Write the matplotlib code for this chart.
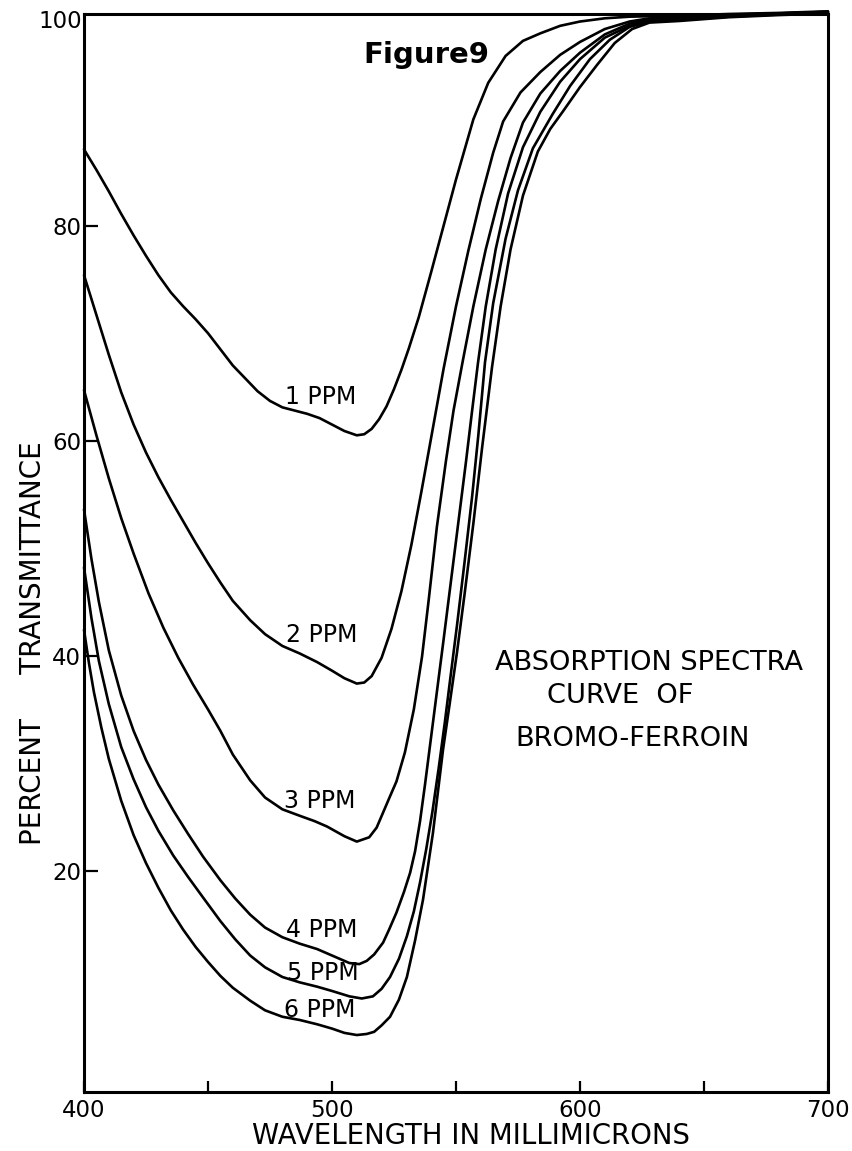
import matplotlib
matplotlib.use("Agg")
import matplotlib.pyplot as plt

# ---------------- data ----------------
wl_1ppm = [400, 405, 410, 415, 420, 425, 430, 435, 440, 445, 450, 455, 460, 465, 470, 475, 480,
           485, 490, 495, 500, 505, 510, 513, 516, 519, 522, 525, 528, 531, 535, 540, 545, 550,
           557, 563, 570, 577, 584, 592, 600, 610, 620, 640, 660, 680, 700]
t_1ppm = [87.1, 85.2, 83.2, 81.1, 79.1, 77.2, 75.4, 73.8, 72.5, 71.3, 70.0, 68.5, 67.0, 65.8, 64.6,
          63.7, 63.1, 62.8, 62.5, 62.1, 61.5, 60.9, 60.5, 60.6, 61.1, 62.0, 63.2, 64.8, 66.6, 68.6,
          71.5, 75.7, 80.0, 84.3, 89.9, 93.3, 95.8, 97.2, 97.9, 98.6, 99.0, 99.3, 99.45, 99.55,
          99.7, 99.8, 99.95]

wl_2ppm = [400, 405, 410, 415, 420, 425, 430, 435, 440, 445, 450, 455, 460, 467, 473, 480, 487,
           494, 500, 505, 510, 513, 516, 520, 524, 528, 532, 536, 540, 545, 550, 555, 560, 565,
           569, 576, 584, 592, 600, 610, 620, 628, 640, 660, 680, 700]
t_2ppm = [75.4, 71.7, 68.0, 64.5, 61.5, 58.9, 56.6, 54.5, 52.5, 50.5, 48.6, 46.8, 45.1, 43.3, 42.0,
          40.9, 40.2, 39.4, 38.6, 37.9, 37.4, 37.5, 38.1, 39.8, 42.5, 46.0, 50.3, 55.2, 60.3, 66.7,
          72.5, 77.7, 82.5, 86.8, 89.7, 92.4, 94.3, 95.9, 97.1, 98.3, 99.0, 99.3, 99.45, 99.65,
          99.75, 99.9]

wl_3ppm = [400, 405, 410, 415, 420, 426, 432, 438, 444, 450, 455, 460, 467, 473, 480, 487, 493,
           498, 505, 510, 515, 518, 520.6, 523, 526, 529.4, 533, 536.3, 539, 542.3, 546, 549,
           552.8, 557, 562, 567, 572, 577, 584, 592, 600, 610, 620, 628, 640, 660, 680, 700]
t_3ppm = [64.7, 60.5, 56.5, 52.8, 49.5, 45.8, 42.6, 39.8, 37.3, 35.0, 33.0, 30.8, 28.4, 26.8, 25.7,
          25.1, 24.6, 24.1, 23.2, 22.7, 23.1, 24.0, 25.4, 26.7, 28.3, 31.0, 35.0, 39.9, 45.2, 52.0,
          58.2, 62.8, 67.5, 72.5, 77.8, 82.3, 86.3, 89.6, 92.3, 94.4, 96.1, 97.8, 98.8, 99.2,
          99.35, 99.6, 99.75, 99.9]

wl_4ppm = [400, 403, 406, 410, 415, 420, 425, 430, 436, 442, 448, 455, 461, 467, 473, 480, 487,
           494, 500, 507, 511, 514, 517, 520.6, 523, 526, 529, 531.5, 533.5, 535.5, 537.5, 540,
           542.5, 545, 548, 551, 554, 556.5, 558.9, 562, 566, 571, 577, 584, 592, 600, 610, 620,
           628, 640, 660, 680, 700]
t_4ppm = [53.6, 49.0, 45.0, 40.5, 36.3, 33.0, 30.3, 28.0, 25.6, 23.4, 21.3, 19.1, 17.4, 15.9, 14.7,
          13.8, 13.2, 12.7, 12.1, 11.4, 11.3, 11.6, 12.2, 13.3, 14.5, 16.1, 18.0, 19.8, 21.8, 24.6,
          28.0, 32.5, 37.0, 41.5, 47.0, 52.5, 58.0, 62.8, 67.3, 72.5, 77.8, 83.0, 87.3, 90.6, 93.4,
          95.5, 97.5, 98.6, 99.1, 99.25, 99.5, 99.7, 99.85]

wl_5ppm = [400, 403, 406, 410, 415, 420, 425, 430, 436, 442, 448, 455, 461, 467, 473, 480, 487,
           494, 500, 507, 512, 516.5, 520, 523.4, 527, 530.2, 533, 535.5, 538, 540.5, 543, 545.5,
           547.6, 550.5, 553.5, 556.5, 559, 561.7, 565, 570, 575, 581, 589, 596, 604, 612, 620,
           628, 640, 660, 680, 700]
t_5ppm = [48.2, 43.5, 39.5, 35.5, 31.5, 28.5, 25.9, 23.7, 21.4, 19.4, 17.5, 15.3, 13.6, 12.1, 11.0,
          10.1, 9.6, 9.2, 8.8, 8.3, 8.1, 8.3, 9.0, 10.1, 11.8, 13.9, 16.2, 18.9, 22.0, 25.5, 29.5,
          33.8, 37.7, 43.0, 48.8, 54.8, 60.5, 67.3, 72.8, 78.8, 83.3, 87.2, 90.4, 93.0, 95.5, 97.3,
          98.5, 99.0, 99.15, 99.45, 99.65, 99.8]

wl_6ppm = [400, 402, 404, 407, 410, 415, 420, 425, 430, 435, 440, 445, 450, 455, 460, 467, 473,
           480, 487, 494, 500, 505, 510, 514, 517, 520, 523.4, 527, 530.2, 533.5, 536.7, 540.7,
           544.8, 547.5, 550.4, 553.5, 557, 560.5, 564.5, 568, 572, 577, 583, 588, 593, 600, 607,
           614, 621, 628, 640, 660, 680, 700]
t_6ppm = [42.4, 39.3, 36.6, 33.3, 30.4, 26.5, 23.3, 20.7, 18.4, 16.3, 14.5, 12.9, 11.5, 10.2, 9.1,
          7.9, 7.0, 6.4, 6.1, 5.7, 5.3, 4.9, 4.7, 4.8, 5.0, 5.6, 6.4, 8.0, 10.1, 13.5, 17.3, 23.5,
          31.3, 35.6, 40.3, 45.8, 52.3, 59.3, 66.8, 72.5, 77.8, 82.8, 86.9, 89.0, 90.6, 92.9, 95.0,
          97.0, 98.3, 98.9, 99.05, 99.4, 99.6, 99.75]

curve_labels = ["1 PPM", "2 PPM", "3 PPM", "4 PPM", "5 PPM", "6 PPM"]
label_x = [481.0, 481.5, 480.7, 481.5, 481.9, 480.7]
label_y = [64.1, 41.9, 26.5, 14.5, 10.5, 7.0]

x_ticks = [400, 450, 500, 550, 600, 650, 700]
x_tick_labels = ["400", "", "500", "", "600", "", "700"]
y_ticks = [20, 40, 60, 80]
y_tick_labels = ["20", "40", "60", "80"]

# ---------------- figure ----------------
plt.rcParams['font.family'] = ['DejaVu Sans']
fig = plt.figure(figsize=(8.52, 11.51), dpi=100)
ax = fig.add_axes([84 / 852, 1 - 1092 / 1151, (828 - 84) / 852, (1092 - 14) / 1151])

series = [(wl_1ppm, t_1ppm), (wl_2ppm, t_2ppm), (wl_3ppm, t_3ppm),
          (wl_4ppm, t_4ppm), (wl_5ppm, t_5ppm), (wl_6ppm, t_6ppm)]
for wl, t in series:
    ax.plot(wl, t, color="black", lw=1.9, solid_joinstyle="round", solid_capstyle="round",
            clip_on=False)

for lab, lx, ly in zip(curve_labels, label_x, label_y):
    ax.text(lx, ly, lab, fontsize=17, ha="left", va="center", color="black")

ax.set_xlim(400, 700)
ax.set_ylim(-0.6, 99.7)
ax.set_xticks(x_ticks)
ax.set_xticklabels(x_tick_labels)
ax.set_yticks(y_ticks)
ax.set_yticklabels(y_tick_labels)
ax.tick_params(axis="x", direction="in", length=8, width=1.6, labelsize=16.5, pad=5)
ax.tick_params(axis="y", direction="in", length=10, width=1.6, labelsize=16.5, pad=2)
ax.text(399.2, 99.0, "100", fontsize=16.5, ha="right", va="center", clip_on=False)
for sp in ax.spines.values():
    sp.set_linewidth(2.2)

fig.text(471 / 852, 1 - 1136 / 1151, "WAVELENGTH IN MILLIMICRONS", fontsize=19.8,
         ha="center", va="center")
fig.text(33 / 852, 1 - 643 / 1151, "PERCENT     TRANSMITTANCE", rotation=90,
         fontsize=20, ha="center", va="center")

ax.text(537.9, 95.9, "Figure9", fontsize=21, fontweight="bold", ha="center", va="center")
ax.text(565.7, 39.3, "ABSORPTION SPECTRA", fontsize=19.6, ha="left", va="center")
ax.text(586.7, 36.2, "CURVE  OF", fontsize=19.6, ha="left", va="center")
ax.text(573.8, 32.2, "BROMO-FERROIN", fontsize=19.6, ha="left", va="center")

fig.savefig("out.png", dpi=100)
